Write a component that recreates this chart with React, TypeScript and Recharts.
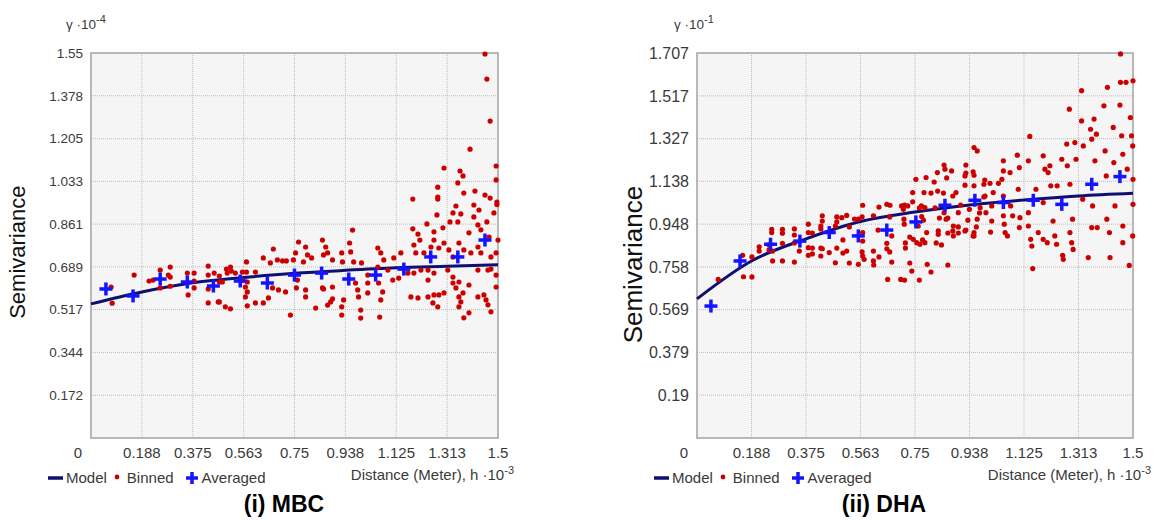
import { ComposedChart, XAxis, YAxis, CartesianGrid, Scatter, Line, ReferenceArea } from "recharts"

const FONT = "'Liberation Sans Narrow', 'Arial Narrow', 'Liberation Sans', Arial, sans-serif"
const WIDE_FONT = "'Liberation Sans', Arial, sans-serif"

// distance axis, h·10^-3 (shared by both panels)
const distanceTicks = [0, 0.1875, 0.375, 0.5625, 0.75, 0.9375, 1.125, 1.3125, 1.5]
const distanceLabels = ["0", "0.188", "0.375", "0.563", "0.75", "0.938", "1.125", "1.313", "1.5"]

// semivariance axes
const mbcYTicks = [0.172, 0.344, 0.517, 0.689, 0.861, 1.033, 1.205, 1.378, 1.55]
const dhaYTicks = [0.19, 0.379, 0.569, 0.758, 0.948, 1.138, 1.327, 1.517, 1.707]

// fitted model, read at the grid distances
const modelX = [0, 0.1875, 0.375, 0.5625, 0.75, 0.9375, 1.125, 1.3125, 1.5]
const mbcModelY = [0.54, 0.588, 0.625, 0.646, 0.663, 0.675, 0.685, 0.691, 0.697]
const dhaModelY = [0.617, 0.785, 0.883, 0.96, 1.002, 1.033, 1.055, 1.073, 1.085]

// averaged (blue crosses)
const mbcAvgX = [0.055, 0.155, 0.255, 0.355, 0.451, 0.55, 0.65, 0.75, 0.85, 0.95, 1.049, 1.153, 1.252, 1.352, 1.452]
const mbcAvgY = [0.6, 0.572, 0.64, 0.628, 0.612, 0.632, 0.624, 0.656, 0.664, 0.64, 0.656, 0.68, 0.729, 0.729, 0.797]
const dhaAvgX = [0.048, 0.148, 0.253, 0.354, 0.455, 0.555, 0.653, 0.753, 0.853, 0.956, 1.054, 1.157, 1.255, 1.358, 1.455]
const dhaAvgY = [0.585, 0.785, 0.859, 0.873, 0.911, 0.896, 0.922, 0.958, 1.032, 1.054, 1.044, 1.054, 1.036, 1.125, 1.159]

// binned (red dots): [distance, semivariance]
const mbcBinned: [number, number][] = [
  [0.074, 0.608], [0.078, 0.543], [0.159, 0.656], [0.214, 0.632], [0.229, 0.636], [0.255, 0.676], [0.255, 0.604],
  [0.285, 0.656], [0.292, 0.688], [0.292, 0.648], [0.292, 0.611], [0.355, 0.664], [0.358, 0.576], [0.38, 0.664],
  [0.38, 0.632], [0.38, 0.604], [0.432, 0.692], [0.432, 0.656], [0.432, 0.6], [0.432, 0.544], [0.454, 0.664],
  [0.469, 0.548], [0.473, 0.652], [0.473, 0.628], [0.473, 0.548], [0.484, 0.628], [0.495, 0.528], [0.499, 0.68],
  [0.502, 0.664], [0.514, 0.688], [0.514, 0.52], [0.517, 0.672], [0.532, 0.664],
  [0.558, 0.636], [0.558, 0.668], [0.569, 0.608], [0.569, 0.568], [0.573, 0.709], [0.573, 0.668], [0.576, 0.532],
  [0.576, 0.628], [0.576, 0.588], [0.606, 0.668], [0.606, 0.544], [0.635, 0.725], [0.635, 0.544], [0.654, 0.564],
  [0.661, 0.705], [0.669, 0.604], [0.672, 0.761], [0.687, 0.717], [0.691, 0.596], [0.706, 0.713], [0.717, 0.588],
  [0.72, 0.713], [0.735, 0.495], [0.746, 0.717], [0.754, 0.745], [0.757, 0.604], [0.761, 0.636], [0.765, 0.789],
  [0.783, 0.709], [0.791, 0.769], [0.791, 0.596], [0.791, 0.568], [0.798, 0.737], [0.813, 0.725], [0.828, 0.523],
  [0.853, 0.797], [0.853, 0.604], [0.857, 0.737], [0.857, 0.6], [0.865, 0.769], [0.872, 0.745], [0.872, 0.535],
  [0.883, 0.548], [0.89, 0.717], [0.89, 0.608], [0.89, 0.56], [0.924, 0.745], [0.924, 0.528], [0.924, 0.495],
  [0.927, 0.709], [0.931, 0.556], [0.953, 0.785], [0.957, 0.749], [0.964, 0.837], [0.968, 0.709], [0.975, 0.624],
  [0.983, 0.596], [0.986, 0.568], [0.994, 0.515], [0.994, 0.483], [0.997, 0.705], [1.02, 0.656], [1.02, 0.624],
  [1.02, 0.584], [1.057, 0.765], [1.057, 0.688], [1.06, 0.624], [1.064, 0.487], [1.068, 0.745], [1.068, 0.556],
  [1.075, 0.588], [1.079, 0.717], [1.094, 0.676], [1.112, 0.636], [1.116, 0.725], [1.134, 0.644], [1.142, 0.745],
  [1.168, 0.664], [1.179, 0.568], [1.186, 0.962], [1.186, 0.842], [1.19, 0.777], [1.19, 0.664], [1.197, 0.745],
  [1.205, 0.821], [1.205, 0.564], [1.212, 0.797], [1.216, 0.676], [1.227, 0.745], [1.238, 0.862], [1.242, 0.676],
  [1.242, 0.636], [1.242, 0.568], [1.253, 0.769], [1.26, 0.544], [1.264, 0.83], [1.264, 0.797], [1.264, 0.664],
  [1.264, 0.576], [1.275, 0.898], [1.278, 1.01], [1.278, 0.97], [1.278, 0.962], [1.278, 0.528], [1.282, 0.765],
  [1.282, 0.576], [1.297, 0.846], [1.301, 1.087], [1.301, 0.785], [1.301, 0.584], [1.315, 0.676], [1.319, 0.757],
  [1.323, 0.87], [1.334, 0.906], [1.334, 0.729], [1.334, 0.648], [1.334, 0.624], [1.345, 0.934], [1.345, 0.604],
  [1.352, 1.027], [1.352, 0.87], [1.356, 0.785], [1.356, 0.628], [1.356, 0.568], [1.356, 0.528], [1.36, 1.075],
  [1.363, 0.902], [1.363, 0.548], [1.371, 1.055], [1.371, 0.584], [1.374, 0.986], [1.374, 0.757], [1.374, 0.484],
  [1.393, 0.826], [1.393, 0.616], [1.393, 0.504], [1.397, 1.163], [1.4, 0.745], [1.411, 0.938], [1.411, 0.89],
  [1.415, 0.994], [1.426, 0.858], [1.426, 0.769], [1.426, 0.676], [1.426, 0.568], [1.43, 0.918], [1.437, 0.838],
  [1.437, 0.745], [1.448, 0.576], [1.452, 1.546], [1.452, 0.978], [1.456, 0.556], [1.459, 1.445], [1.459, 0.87],
  [1.463, 0.676], [1.463, 0.536], [1.467, 0.809], [1.471, 1.276], [1.471, 0.966], [1.474, 0.729], [1.474, 0.68],
  [1.474, 0.508], [1.485, 0.906], [1.493, 1.095], [1.493, 1.039], [1.493, 0.745], [1.493, 0.656], [1.493, 0.608],
  [1.496, 0.95], [1.496, 0.94], [1.5, 0.797],
]

const dhaBinned: [number, number][] = [
  [0.073, 0.703], [0.157, 0.81], [0.16, 0.715], [0.189, 0.803], [0.189, 0.714], [0.214, 0.848], [0.214, 0.829],
  [0.248, 0.856], [0.248, 0.834], [0.257, 0.925], [0.257, 0.911], [0.26, 0.829], [0.26, 0.785], [0.294, 0.925],
  [0.294, 0.908], [0.294, 0.863], [0.294, 0.785], [0.335, 0.927], [0.335, 0.9], [0.335, 0.865], [0.335, 0.78],
  [0.352, 0.829], [0.383, 0.948], [0.383, 0.911], [0.383, 0.844], [0.383, 0.81], [0.397, 0.909], [0.397, 0.842],
  [0.397, 0.816], [0.426, 0.94], [0.426, 0.927], [0.426, 0.842], [0.426, 0.807], [0.431, 0.985], [0.431, 0.962],
  [0.431, 0.839], [0.455, 0.822], [0.476, 0.94], [0.476, 0.777], [0.481, 0.98], [0.481, 0.958], [0.481, 0.842],
  [0.498, 0.977], [0.502, 0.878], [0.502, 0.82], [0.515, 0.987], [0.515, 0.829], [0.524, 0.936], [0.524, 0.776],
  [0.542, 0.971], [0.555, 0.97], [0.555, 0.77], [0.568, 0.98], [0.568, 0.825], [0.57, 1.032], [0.57, 0.911],
  [0.57, 0.873], [0.57, 0.807], [0.575, 0.792], [0.607, 0.985], [0.607, 0.829], [0.607, 0.785], [0.608, 0.767],
  [0.623, 0.922], [0.626, 1.024], [0.626, 0.803], [0.653, 1.036], [0.653, 0.863], [0.653, 0.839], [0.656, 0.703],
  [0.663, 0.98], [0.663, 0.825], [0.664, 1.032], [0.67, 0.896], [0.67, 0.78], [0.701, 0.703], [0.704, 1.029],
  [0.71, 1.014], [0.712, 0.97], [0.713, 0.948], [0.714, 1.033], [0.714, 0.7], [0.717, 0.865], [0.717, 0.842],
  [0.725, 1.029], [0.732, 0.891], [0.732, 0.776], [0.739, 0.74], [0.742, 1.088], [0.742, 1.047], [0.744, 0.881],
  [0.753, 1.147], [0.756, 0.866], [0.761, 0.94], [0.765, 1.02], [0.765, 0.7], [0.767, 0.859], [0.772, 1.029],
  [0.773, 0.982], [0.776, 0.878], [0.779, 0.966], [0.781, 1.088], [0.784, 1.021], [0.784, 0.866], [0.788, 1.155],
  [0.79, 0.911], [0.792, 0.77], [0.805, 1.086], [0.805, 0.736], [0.816, 1.135], [0.819, 1.02], [0.823, 0.865],
  [0.827, 1.177], [0.828, 1.095], [0.83, 0.918], [0.83, 0.903], [0.834, 0.975], [0.841, 0.856], [0.848, 1.086],
  [0.85, 1.21], [0.85, 0.999], [0.853, 1.192], [0.857, 0.97], [0.859, 1.153], [0.863, 0.975], [0.863, 0.909],
  [0.863, 0.767], [0.876, 1.184], [0.88, 1.073], [0.88, 0.918], [0.882, 0.94], [0.882, 0.896], [0.891, 1.088],
  [0.899, 0.999], [0.899, 0.936], [0.899, 0.909], [0.907, 1.033], [0.922, 1.162], [0.922, 1.121], [0.922, 0.918],
  [0.925, 1.21], [0.925, 1.175], [0.925, 0.922], [0.932, 0.966], [0.937, 1.014], [0.95, 1.18], [0.95, 0.896],
  [0.953, 1.288], [0.953, 1.165], [0.953, 1.118], [0.953, 0.911], [0.953, 0.896], [0.961, 0.936], [0.964, 1.273],
  [0.964, 0.97], [0.972, 0.998], [0.974, 1.021], [0.987, 1.125], [0.987, 1.069], [0.99, 1.144], [0.991, 1.073],
  [0.994, 0.999], [1.008, 1.129], [1.01, 0.913], [1.014, 1.029], [1.014, 0.962], [1.019, 1.088], [1.037, 1.129],
  [1.049, 1.147], [1.054, 1.229], [1.054, 1.184], [1.054, 1.073], [1.054, 0.985], [1.057, 0.948], [1.06, 0.911],
  [1.068, 0.896], [1.077, 1.177], [1.079, 1.029], [1.086, 0.985], [1.102, 1.254], [1.105, 1.103], [1.109, 1.199],
  [1.109, 0.933], [1.111, 0.977], [1.14, 1.229], [1.14, 0.999], [1.14, 0.94], [1.145, 1.337], [1.148, 0.881],
  [1.152, 0.851], [1.155, 0.751], [1.166, 1.103], [1.174, 0.911], [1.191, 1.251], [1.191, 1.044], [1.191, 0.881],
  [1.197, 1.192], [1.205, 0.866], [1.208, 1.177], [1.214, 1.207], [1.217, 1.118], [1.225, 0.962], [1.231, 0.896],
  [1.237, 0.859], [1.239, 1.118], [1.255, 1.236], [1.258, 0.81], [1.26, 0.792], [1.272, 1.303], [1.274, 1.207],
  [1.281, 1.458], [1.283, 1.125], [1.283, 0.911], [1.289, 0.866], [1.292, 0.97], [1.294, 0.836], [1.3, 1.31],
  [1.304, 1.236], [1.323, 1.54], [1.323, 1.406], [1.327, 1.059], [1.329, 1.295], [1.346, 0.8], [1.354, 1.369],
  [1.358, 1.325], [1.358, 0.933], [1.361, 1.029], [1.366, 1.414], [1.369, 1.229], [1.374, 1.347], [1.377, 0.933],
  [1.4, 1.473], [1.404, 1.273], [1.408, 1.162], [1.41, 0.97], [1.412, 1.555], [1.419, 0.911], [1.421, 0.8],
  [1.432, 1.377], [1.434, 1.221], [1.438, 1.029], [1.455, 1.476], [1.457, 1.577], [1.457, 1.703], [1.461, 1.34],
  [1.465, 1.258], [1.465, 0.94], [1.465, 0.866], [1.476, 1.577], [1.48, 1.192], [1.487, 0.765], [1.491, 1.421],
  [1.495, 1.34], [1.499, 1.295], [1.499, 0.896], [1.5, 1.584], [1.5, 1.147], [1.5, 1.036],
]

const RED = "#cc0000"
const BLUE = "#1414ff"
const NAVY = "#0f0f70"
const TEXT = "#3a3a3a"

const DistanceTick = (props: any) => {
  const { x, y, payload } = props
  const i = distanceTicks.indexOf(payload.value)
  return (
    <text x={payload.value === 0 ? x - 13 : x} y={y} dy={12} textAnchor="middle" fontSize={15} fontFamily={FONT} fill={TEXT}>
      {distanceLabels[i]}
    </text>
  )
}

const Dot = (props: any) => <circle cx={props.cx} cy={props.cy} r={2.6} fill={RED} />

const Cross = (props: any) => {
  const { cx, cy } = props
  return (
    <g stroke={BLUE} strokeWidth={3.5}>
      <line x1={cx - 6.5} y1={cy} x2={cx + 6.5} y2={cy} />
      <line x1={cx} y1={cy - 6.5} x2={cx} y2={cy + 6.5} />
    </g>
  )
}

interface PanelProps {
  left: number
  width: number
  axisWidth: number
  rightGap: number
  yMax: number
  yTicks: number[]
  yTickSize: number
  binned: [number, number][]
  avgX: number[]
  avgY: number[]
  modelY: number[]
}

function Panel({ left, width, axisWidth, rightGap, yMax, yTicks, yTickSize, binned, avgX, avgY, modelY }: PanelProps) {
  const model = modelX.map((x, i) => ({ x, y: modelY[i] }))
  const averaged = avgX.map((x, i) => ({ x, y: avgY[i] }))
  const points = binned.map(([x, y]) => ({ x, y }))
  return (
    <div style={{ position: "absolute", left, top: 0 }}>
      <ComposedChart width={width} height={470} margin={{ top: 53, right: rightGap, bottom: 12, left: 0 }}>
        <CartesianGrid fill="#f5f5f5" stroke="#bdbdbd" strokeDasharray="1 1" />
        <XAxis
          type="number"
          dataKey="x"
          domain={[0, 1.5]}
          ticks={distanceTicks}
          interval={0}
          height={20}
          axisLine={false}
          tickLine={false}
          tick={<DistanceTick />}
        />
        <YAxis
          type="number"
          dataKey="y"
          domain={[0, yMax]}
          ticks={yTicks}
          interval={0}
          width={axisWidth}
          axisLine={false}
          tickLine={false}
          tick={{ fill: TEXT, fontSize: yTickSize, fontFamily: FONT }}
        />
        <ReferenceArea x1={0} x2={1.5} y1={0} y2={yMax} fill="none" stroke="#a8a8a8" strokeWidth={1.5} />
        <Scatter data={points} dataKey="y" shape={<Dot />} isAnimationActive={false} />
        <Line data={model} dataKey="y" type="monotone" stroke={NAVY} strokeWidth={3} dot={false} isAnimationActive={false} />
        <Scatter data={averaged} dataKey="y" shape={<Cross />} isAnimationActive={false} />
      </ComposedChart>
    </div>
  )
}

const textStyle: React.CSSProperties = { position: "absolute", fontFamily: FONT, color: TEXT, whiteSpace: "nowrap" }

function Legend({ left }: { left: number }) {
  return (
    <div style={{ ...textStyle, left, top: 469, fontSize: 15, lineHeight: "18px", display: "flex", alignItems: "center" }}>
      <svg width={18} height={18}><line x1={1} y1={9} x2={16} y2={9} stroke={NAVY} strokeWidth={3.5} /></svg>
      <span style={{ marginLeft: 1 }}>Model</span>
      <svg width={16} height={18} style={{ marginLeft: 2 }}><circle cx={8} cy={8} r={2.4} fill={RED} /></svg>
      <span style={{ marginLeft: 2 }}>Binned</span>
      <svg width={16} height={18} style={{ marginLeft: 10 }}>
        <line x1={2} y1={9} x2={14} y2={9} stroke={BLUE} strokeWidth={3.5} />
        <line x1={8} y1={3} x2={8} y2={15} stroke={BLUE} strokeWidth={3.5} />
      </svg>
      <span style={{ marginLeft: 2 }}>Averaged</span>
    </div>
  )
}

function DistanceLabel({ right }: { right: number }) {
  return (
    <div style={{ ...textStyle, left: right - 200, width: 200, textAlign: "right", top: 466, fontSize: 15, lineHeight: "18px" }}>
      Distance (Meter), h ·10<sup style={{ fontSize: 11, verticalAlign: "6px", lineHeight: 0 }}>-3</sup>
    </div>
  )
}

function GammaLabel({ left, exp }: { left: number; exp: string }) {
  return (
    <div style={{ ...textStyle, left, top: 17, fontSize: 13.5, lineHeight: "16px" }}>
      γ ·10<sup style={{ fontSize: 11, verticalAlign: "6px", lineHeight: 0 }}>{exp}</sup>
    </div>
  )
}

function YTitle({ cx, cy, size }: { cx: number; cy: number; size: number }) {
  return (
    <div
      style={{
        position: "absolute",
        left: cx - 100,
        top: cy - size * 0.6,
        width: 200,
        height: size * 1.2,
        lineHeight: `${size * 1.2}px`,
        textAlign: "center",
        fontSize: size,
        fontFamily: WIDE_FONT,
        color: "#111",
        transform: "rotate(-90deg)",
      }}
    >
      Semivariance
    </div>
  )
}

function Caption({ cx, text }: { cx: number; text: string }) {
  return (
    <div
      style={{
        position: "absolute",
        left: cx - 100,
        width: 200,
        top: 490,
        textAlign: "center",
        fontSize: 23,
        lineHeight: "28px",
        fontWeight: "bold",
        fontFamily: WIDE_FONT,
        color: "#000",
      }}
    >
      {text}
    </div>
  )
}

export default function App() {
  return (
    <div style={{ position: "absolute", left: 0, top: 0, width: 1154, height: 520, background: "#fff", overflow: "hidden" }}>
      <Panel
        left={0}
        width={520}
        axisWidth={91}
        rightGap={22}
        yMax={1.55}
        yTicks={mbcYTicks}
        yTickSize={13.5}
        binned={mbcBinned}
        avgX={mbcAvgX}
        avgY={mbcAvgY}
        modelY={mbcModelY}
      />
      <Panel
        left={600}
        width={554}
        axisWidth={97}
        rightGap={21}
        yMax={1.707}
        yTicks={dhaYTicks}
        yTickSize={16}
        binned={dhaBinned}
        avgX={dhaAvgX}
        avgY={dhaAvgY}
        modelY={dhaModelY}
      />
      <GammaLabel left={66} exp="-4" />
      <GammaLabel left={674} exp="-1" />
      <YTitle cx={18} cy={252} size={22} />
      <YTitle cx={634} cy={265} size={26} />
      <Legend left={47} />
      <Legend left={653} />
      <DistanceLabel right={514} />
      <DistanceLabel right={1151} />
      <Caption cx={284} text="(i) MBC" />
      <Caption cx={884} text="(ii) DHA" />
    </div>
  )
}
